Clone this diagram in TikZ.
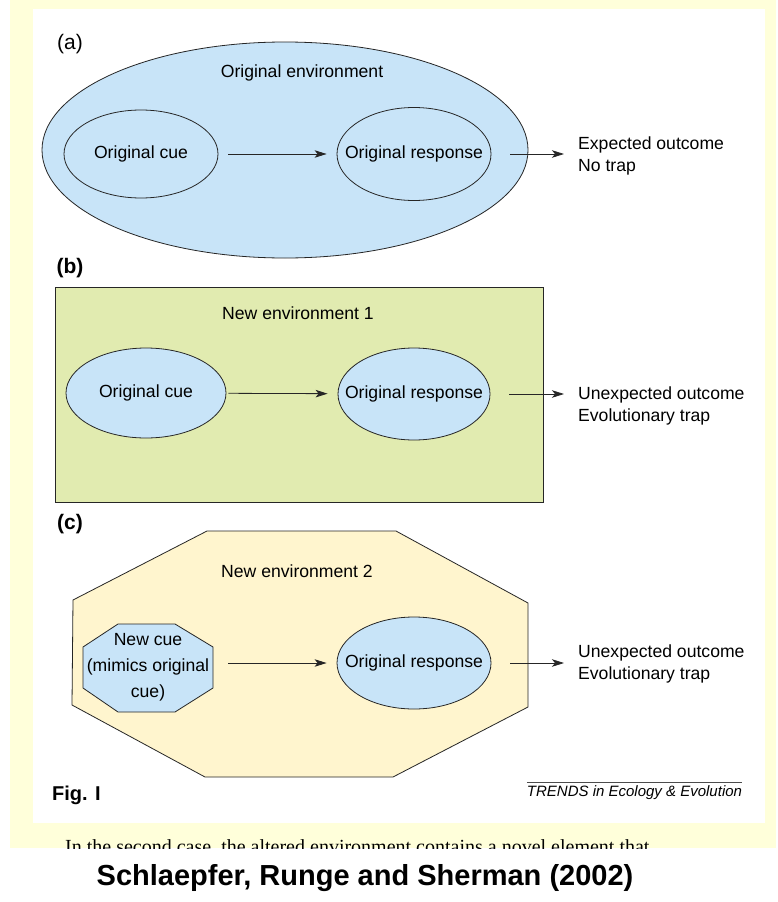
\documentclass[tikz,border=0pt]{standalone}
\usepackage{fontspec}
\setmainfont{Liberation Sans}
\newfontfamily\pageserif{Liberation Serif}
\usepackage{tikz}
\usetikzlibrary{arrows.meta, positioning, shapes.geometric}
\usepackage{xcolor}
\definecolor{trapblue}{RGB}{200,228,248}
\definecolor{trapgreen}{RGB}{225,235,176}
\definecolor{trapbeige}{RGB}{255,245,206}
\definecolor{trapframe}{RGB}{255,255,218}

\begin{document}
\begin{tikzpicture}[x=1pt, y=-1pt,
  txt/.style={font=\fontsize{17.6}{22}\selectfont, inner sep=0pt},
  panel/.style={font=\fontsize{21}{24}\selectfont, inner sep=0pt},
  shell/.style={draw=black!85, line width=0.8pt, inner sep=0pt},
  cue/.style={shell, ellipse, fill=trapblue},
  arr/.style={-{Stealth[length=12pt, width=7.5pt, inset=3pt]}, line width=0.8pt, black!85},
  every label/.style={txt},
]
  \useasboundingbox (0,0) rectangle (777,902);
  \fill[trapframe] (10,0) rectangle (776,848);
  \fill[white] (33,9) rectangle (765,823);

  % (a) original environment
  \node[panel] (labA) at (70,44) {(a)};
  \node[shell, ellipse, fill=trapblue, minimum width=486, minimum height=216] (envA) at (285,150) {};
  \node[txt] (envAtxt) at (302,73) {Original environment};
  \node[cue, minimum width=154, minimum height=88, label=center:Original cue] (cueA) at (141,154) {};
  \node[cue, minimum width=154, minimum height=93, label=center:Original response] (respA) at (414,154) {};
  \node[txt, anchor=west, align=left] (outA) at (578,156) {Expected outcome\\No trap};
  \draw[arr, shorten <=10pt, shorten >=10pt] (cueA) -- (respA);
  \draw[arr, shorten <=19pt, shorten >=14pt] (respA.east) -- (outA.west |- respA.east);

  % (b) new environment 1
  \node[panel, font=\fontsize{21}{24}\selectfont\bfseries] (labB) at (70,268) {(b)};
  \node[shell, rectangle, fill=trapgreen, minimum width=488, minimum height=215] (envB) at (299,394.5) {};
  \node[txt] (envBtxt) at (298,313) {New environment 1};
  \node[cue, minimum width=160, minimum height=90, label=center:Original cue] (cueB) at (146,393) {};
  \node[cue, minimum width=152, minimum height=92, label=center:Original response] (respB) at (414,394) {};
  \node[txt, anchor=west, align=left] (outB) at (578,406) {Unexpected outcome\\Evolutionary trap};
  \draw[arr, shorten <=2pt, shorten >=10pt] (cueB) -- (respB);
  \draw[arr, shorten <=19pt, shorten >=14pt] (respB.east) -- (outB.west |- respB.east);

  % (c) new environment 2
  \node[panel, font=\fontsize{21}{24}\selectfont\bfseries] (labC) at (70,524) {(c)};
  \draw[shell, fill=trapbeige] (207,531) -- (396,531) -- (528,603) -- (528,707)
    -- (393,777) -- (205,777) -- (72,705) -- (73,600) -- cycle;
  \node[txt] (envCtxt) at (297,571) {New environment 2};
  \draw[shell, fill=trapblue] (118,624) -- (175,624) -- (213,647) -- (213,688)
    -- (175,712) -- (118,712) -- (83,688) -- (83,647) -- cycle;
  \node[txt, align=center, minimum width=130, font=\fontsize{17.6}{26}\selectfont] (cueC) at (148,667)
    {New cue\\(mimics original\\cue)};
  \node[cue, minimum width=154, minimum height=92, label=center:Original response] (respC) at (414,663) {};
  \node[txt, anchor=west, align=left] (outC) at (578,664) {Unexpected outcome\\Evolutionary trap};
  \draw[arr, shorten <=15pt, shorten >=10pt] (cueC.east |- respC) -- (respC);
  \draw[arr, shorten <=19pt, shorten >=14pt] (respC.east) -- (outC.west |- respC.east);

  % footer
  \node[inner sep=0pt, anchor=west, font=\fontsize{20}{22}\selectfont\bfseries] (fig) at (52,795) {Fig. I};
  \node[inner sep=0pt, font=\fontsize{15}{18}\selectfont\itshape] (trends) at (634.5,793) {TRENDS in Ecology \& Evolution};
  \draw[line width=0.6pt, black!70] (trends.north west) ++(0,-4) coordinate (tl) -- (tl -| trends.north east);
  \begin{scope}
    \clip (10,823) rectangle (776,848);
    \node[inner sep=0pt, anchor=base west, font=\pageserif\fontsize{20}{24}\selectfont] (body) at (65,853)
      {In the second case, the altered environment contains a novel element that};
  \end{scope}
  \node[inner sep=0pt, font=\fontsize{29}{32}\selectfont\bfseries] (cite) at (365,878) {Schlaepfer, Runge and Sherman (2002)};
\end{tikzpicture}
\end{document}
